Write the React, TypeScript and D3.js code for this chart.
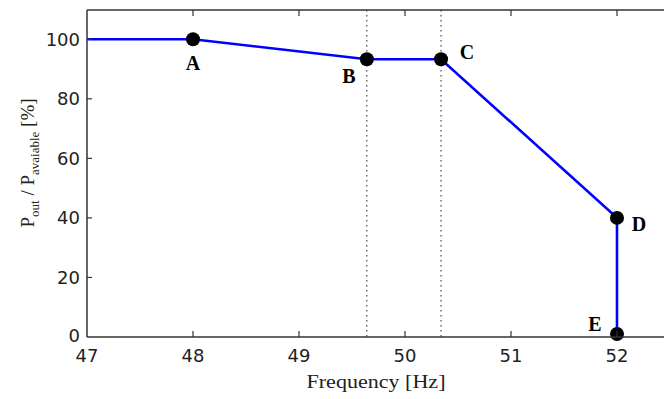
import React from "react";
import * as d3 from "d3";

const freqs = [47, 48, 49.64, 50.34, 52, 52];
const power = [100, 100, 93.3, 93.3, 40, 1];
const pointLabels = ["A", "B", "C", "D", "E"];
const pointFreqs = [48, 49.64, 50.34, 52, 52];
const pointPower = [100, 93.3, 93.3, 40, 1];
const xTicks = [47, 48, 49, 50, 51, 52];
const yTicks = [0, 20, 40, 60, 80, 100];
const dottedFreqs = [49.64, 50.34];

const W = 664;
const H = 399;
const left = 87;
const top = 10;
const bottom = 337;

export default function App() {
  const x = d3.scaleLinear().domain([47, 52]).range([left, 617]);
  const y = d3.scaleLinear().domain([0, 110]).range([bottom, top - 0.5]);
  const rightX = x(53);
  const data = freqs.map((f, i) => [f, power[i]] as [number, number]);
  const line = d3
    .line<[number, number]>()
    .x((d) => x(d[0]))
    .y((d) => y(d[1]));
  const labelOffsets = [
    [0, 24],
    [-18, 17],
    [26, -7],
    [22, 6],
    [-22, -10],
  ];
  const axisColor = "#333";
  const tickFont = "'DejaVu Sans', sans-serif";
  const serif = "'Liberation Serif', 'Times New Roman', serif";
  return (
    <svg
      width={W}
      height={H}
      style={{ position: "absolute", left: 0, top: 0, background: "#fff" }}
    >
      <rect x={0} y={0} width={W} height={H} fill="#fff" />
      {dottedFreqs.map((f, i) => (
        <line
          key={"dot" + i}
          x1={x(f)}
          x2={x(f)}
          y1={top}
          y2={bottom}
          stroke="#222"
          strokeWidth={1}
          strokeDasharray="1.5,3.5"
        />
      ))}
      <path d={line(data) || ""} fill="none" stroke="#0000ff" strokeWidth={2.6} />
      {pointFreqs.map((f, i) => (
        <circle key={"pt" + i} cx={x(f)} cy={y(pointPower[i])} r={7} fill="#000" />
      ))}
      {pointLabels.map((lab, i) => (
        <text
          key={"lab" + i}
          x={x(pointFreqs[i]) + labelOffsets[i][0]}
          y={y(pointPower[i]) + labelOffsets[i][1]}
          textAnchor="middle"
          dominantBaseline="central"
          fontFamily={serif}
          fontWeight="bold"
          fontSize={20}
          fill="#000"
        >
          {lab}
        </text>
      ))}
      {/* frame */}
      <line x1={left} x2={rightX} y1={top} y2={top} stroke={axisColor} strokeWidth={1.5} />
      <line x1={left} x2={rightX} y1={bottom} y2={bottom} stroke={axisColor} strokeWidth={1.5} />
      <line x1={left} x2={left} y1={top} y2={bottom} stroke={axisColor} strokeWidth={1.5} />
      {xTicks.map((t) => (
        <g key={"xt" + t}>
          {t !== 47 && (
            <>
              <line x1={x(t)} x2={x(t)} y1={bottom} y2={bottom - 6} stroke={axisColor} strokeWidth={1.2} />
              <line x1={x(t)} x2={x(t)} y1={top} y2={top + 6} stroke={axisColor} strokeWidth={1.2} />
            </>
          )}
          <text
            x={x(t)}
            y={362}
            textAnchor="middle"
            fontFamily={tickFont}
            fontSize={18}
            fill="#222"
          >
            {t}
          </text>
        </g>
      ))}
      {yTicks.map((t) => (
        <g key={"yt" + t}>
          {t !== 0 && (
            <line x1={left} x2={left + 5} y1={y(t)} y2={y(t)} stroke={axisColor} strokeWidth={1.2} />
          )}
          <text
            x={80}
            y={t === 0 ? y(t) - 2 : y(t)}
            textAnchor="end"
            dominantBaseline="central"
            fontFamily={tickFont}
            fontSize={18}
            fill="#222"
          >
            {t}
          </text>
        </g>
      ))}
      <text
        x={376}
        y={388}
        textAnchor="middle"
        fontFamily={serif}
        fontSize={19}
        textLength={139}
        lengthAdjust="spacingAndGlyphs"
        fill="#222"
      >
        Frequency [Hz]
      </text>
      <text
        transform="translate(34,163) rotate(-90)"
        textAnchor="middle"
        fontFamily={serif}
        fontSize={19}
        fill="#222"
      >
        <tspan>P</tspan>
        <tspan fontSize={13} dy={5}>out</tspan>
        <tspan dy={-5}> / P</tspan>
        <tspan fontSize={13} dy={5}>avaiable</tspan>
        <tspan dy={-5}> [%]</tspan>
      </text>
    </svg>
  );
}
